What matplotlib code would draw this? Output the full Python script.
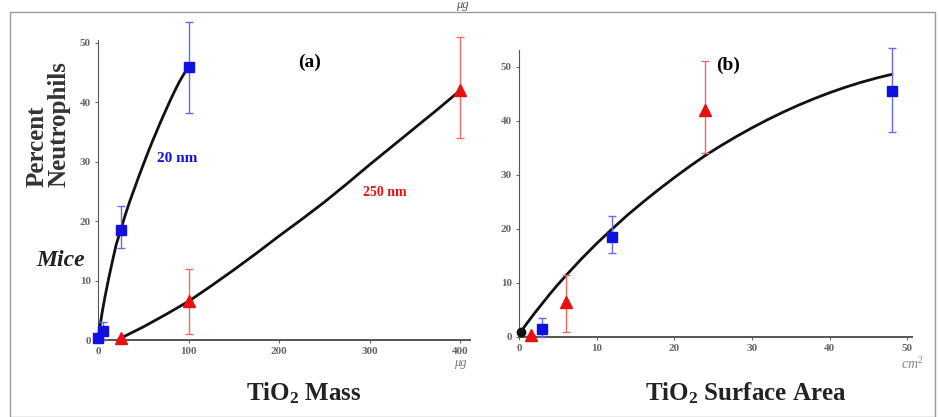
import matplotlib

matplotlib.use("Agg")
import matplotlib.pyplot as plt
from matplotlib.patches import Rectangle

plt.rcParams["font.family"] = ["Liberation Serif", "DejaVu Serif"]
plt.rcParams["mathtext.fontset"] = "custom"
plt.rcParams["mathtext.rm"] = "Liberation Serif"
plt.rcParams["mathtext.bf"] = "Liberation Serif:bold"
plt.rcParams["mathtext.it"] = "Liberation Serif:italic"

# panel (a): mass in ug
mass_20_x = [0, 5, 25, 100]
mass_20_y = [0.3, 1.5, 18.5, 46]
mass_20_lo = [0.3, 0.0, 15.5, 38.2]
mass_20_hi = [0.3, 3.0, 22.5, 53.5]
mass_250_x = [25, 100, 400]
mass_250_y = [0.3, 6.5, 42]
mass_250_lo = [0.3, 1.0, 34.0]
mass_250_hi = [0.3, 12.0, 51.0]
fit_20_x = [0, 2, 5, 8, 12, 16, 20, 25, 30, 35, 40, 45, 50, 55, 60, 65, 70, 75, 80, 85, 90, 95, 100]
fit_20_y = [0, 2.2, 5.0, 7.5, 10.5, 13.3, 16.0, 18.5, 21.0, 23.3, 25.4, 27.5, 29.5,
            31.5, 33.4, 35.2, 37.0, 38.7, 40.4, 42.0, 43.5, 44.8, 46]
fit_250_x = [25, 50, 75, 100, 125, 150, 175, 200, 225, 250, 275, 300, 325, 350, 375, 400]
fit_250_y = [0.3, 2.2, 4.3, 6.5, 9.1, 11.8, 14.6, 17.5, 20.3, 23.2, 26.3, 29.5,
             32.6, 35.7, 38.8, 42]

# panel (b): surface area in cm2
area_20_x = [3, 12, 48]
area_20_y = [1.5, 18.5, 45.5]
area_20_lo = [0.0, 15.5, 38.0]
area_20_hi = [3.5, 22.3, 53.5]
area_250_x = [1.5, 6, 24]
area_250_y = [0.3, 6.5, 42]
area_250_lo = [0.3, 1.0, 34.0]
area_250_hi = [0.3, 11.5, 51.0]
ctrl_x = [0.2]
ctrl_y = [1.0]
fit_area_x = [0, 1, 2, 3, 4, 5, 6, 8, 10, 12, 14, 16, 18, 20, 22, 24, 26, 28, 30,
              32, 34, 36, 38, 40, 42, 44, 46, 48]
fit_area_y = [0.5, 2.5, 4.4, 6.2, 8.0, 9.7, 11.3, 14.4, 17.3, 20.0, 22.6, 25.0,
              27.3, 29.5, 31.6, 33.6, 35.4, 37.1, 38.7, 40.2, 41.6, 42.9, 44.1,
              45.2, 46.2, 47.1, 47.9, 48.6]

y_ticks = [0, 10, 20, 30, 40, 50]
mass_ticks = [0, 100, 200, 300, 400]
area_ticks = [0, 10, 20, 30, 40, 50]

BLUE = "#1010e0"
RED = "#e81010"
BLUE_ERR = "#6a6af0"
RED_ERR = "#f06a6a"


def _err(y, lo, hi):
    return [[v - l for v, l in zip(y, lo)], [h - v for v, h in zip(y, hi)]]


def _style(ax, xticks):
    for s in ("top", "right"):
        ax.spines[s].set_visible(False)
    ax.spines["left"].set_color("#555555")
    ax.spines["bottom"].set_color("#555555")
    ax.spines["bottom"].set_linewidth(1.4)
    ax.set_yticks(y_ticks)
    ax.set_xticks(xticks)
    ax.tick_params(axis="both", labelsize=8, colors="#666666", length=2, pad=3)
    for lab in ax.get_xticklabels() + ax.get_yticklabels():
        lab.set_fontweight("bold")


fig = plt.figure(figsize=(9.39, 4.17), dpi=100)
fig.patches.append(Rectangle((10 / 939, 0), 925 / 939, 1 - 12 / 417, transform=fig.transFigure,
                             fill=False, edgecolor="#999999", linewidth=1))

# ---- (a) ----
ax1 = fig.add_axes([98 / 939, 1 - 340 / 417, 372 / 939, 300 / 417])
ax1.set_xlim(0, 411)
ax1.set_ylim(0, 50.5)
_style(ax1, mass_ticks)
ax1.plot(fit_20_x, fit_20_y, color="#111111", lw=2, clip_on=False, zorder=3)
ax1.plot(fit_250_x, fit_250_y, color="#111111", lw=2, clip_on=False, zorder=3)
ax1.errorbar(mass_20_x, mass_20_y, yerr=_err(mass_20_y, mass_20_lo, mass_20_hi), fmt="s", color=BLUE,
             ecolor=BLUE_ERR, elinewidth=1, capsize=3, ms=7, clip_on=False, zorder=4)
ax1.errorbar(mass_250_x, mass_250_y, yerr=_err(mass_250_y, mass_250_lo, mass_250_hi), fmt="^", color=RED,
             ecolor=RED_ERR, elinewidth=1, capsize=3, ms=8, clip_on=False, zorder=4)
fig.text(310 / 939, 1 - 62 / 417, "(a)", ha="center", va="center", fontsize=14, fontweight="bold")
fig.text(177 / 939, 1 - 158 / 417, "20 nm", ha="center", va="center", fontsize=11,
         fontweight="bold", color=BLUE)
fig.text(385 / 939, 1 - 193 / 417, "250 nm", ha="center", va="center", fontsize=10,
         fontweight="bold", color=RED)
fig.text(48 / 939, 1 - 124 / 417, "Percent\nNeutrophils", rotation=90, ha="center", va="center",
         multialignment="left", fontsize=18, fontweight="bold", color="#333333", linespacing=0.95)
fig.text(61 / 939, 1 - 260 / 417, "Mice", ha="center", va="center", fontsize=17,
         fontweight="bold", style="italic", color="#222222")
fig.text(460 / 939, 1 - 363 / 417, "μg", ha="center", va="center", fontsize=9, style="italic",
         color="#777777")
fig.text(462 / 939, 1 - 5 / 417, "μg", ha="center", va="center", fontsize=9, style="italic",
         color="#555555")
fig.text(304 / 939, 1 - 393 / 417, r"TiO$_\mathbf{2}$ Mass", ha="center", va="center", fontsize=18,
         fontweight="bold", color="#222222")

# ---- (b) ----
ax2 = fig.add_axes([519 / 939, 1 - 337 / 417, 393 / 939, 287 / 417])
ax2.set_xlim(0, 50.6)
ax2.set_ylim(0, 53.1)
_style(ax2, area_ticks)
ax2.plot(fit_area_x, fit_area_y, color="#111111", lw=2, clip_on=False, zorder=3)
ax2.errorbar(area_20_x, area_20_y, yerr=_err(area_20_y, area_20_lo, area_20_hi), fmt="s", color=BLUE,
             ecolor=BLUE_ERR, elinewidth=1, capsize=3, ms=7, clip_on=False, zorder=4)
ax2.errorbar(area_250_x, area_250_y, yerr=_err(area_250_y, area_250_lo, area_250_hi), fmt="^", color=RED,
             ecolor=RED_ERR, elinewidth=1, capsize=3, ms=8, clip_on=False, zorder=4)
ax2.plot(ctrl_x, ctrl_y, "o", color="#111111", ms=6, clip_on=False, zorder=5)
fig.text(728 / 939, 1 - 65 / 417, "(b)", ha="center", va="center", fontsize=14, fontweight="bold")
fig.text(912 / 939, 1 - 364 / 417, r"$\mathit{cm}^2$", ha="center", va="center", fontsize=10,
         color="#888888")
fig.text(746 / 939, 1 - 393 / 417, r"TiO$_\mathbf{2}$ Surface Area", ha="center", va="center",
         fontsize=18, fontweight="bold", color="#222222")

fig.savefig("out.png", dpi=100)
